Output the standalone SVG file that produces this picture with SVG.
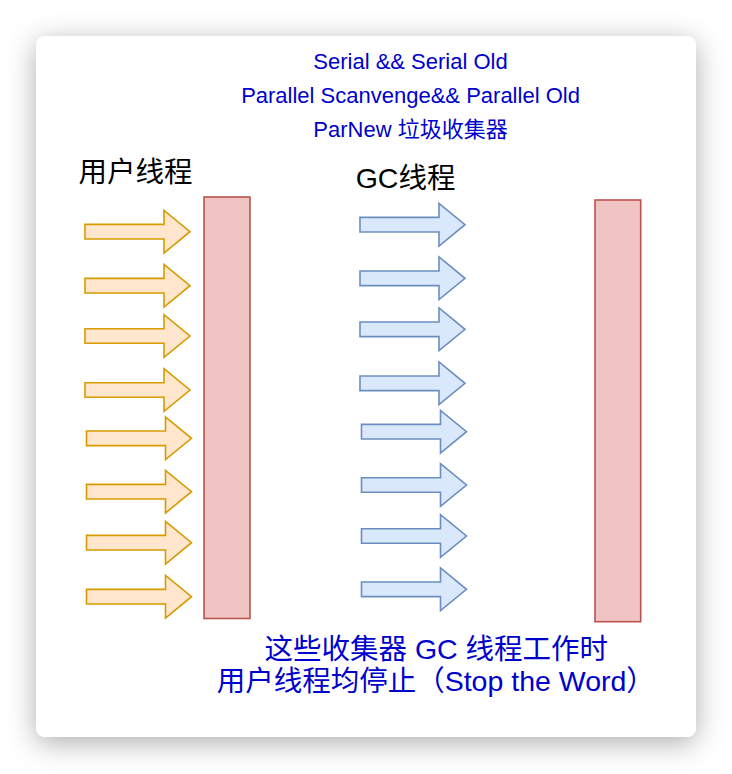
<svg xmlns="http://www.w3.org/2000/svg" width="732" height="774" viewBox="0 0 732 774">
  <defs>
    <filter id="shadow" x="-20%" y="-20%" width="140%" height="140%">
      <feDropShadow dx="0" dy="6" stdDeviation="14" flood-color="#000" flood-opacity="0.32"/>
    </filter>
    <path id="arrow" d="M0,-7.3 H79 V-21.3 L105,0 L79,21.3 V7.3 H0 Z"/>
  </defs>
  <style>
    .user { fill: #ffe6cc; stroke: #d79b00; stroke-width: 1.6; stroke-linejoin: miter; }
    .gc { fill: #dae8fc; stroke: #6c8ebf; stroke-width: 1.6; stroke-linejoin: miter; }
    .bar { fill: #f0c4c3; stroke: #b85450; stroke-width: 1.6; }
    .t { font-family: "Liberation Sans", "Noto Sans CJK SC", sans-serif; }
    .blue { fill: #0000cc; }
    .top { font-size: 22px; text-anchor: middle; }
    .lbl { font-size: 28.5px; fill: #000; }
    .note { font-size: 28.5px; }
  </style>
  <rect width="732" height="774" fill="#ffffff"/>
  <g id="card">
    <rect x="36" y="36" width="660" height="701" rx="9" fill="#ffffff" filter="url(#shadow)"/>
  </g>
  <g id="title">
    <text class="t blue top" x="410.5" y="69">Serial &amp;&amp; Serial Old</text>
    <text class="t blue top" x="410.5" y="103">Parallel Scanvenge&amp;&amp; Parallel Old</text>
    <text class="t blue top" x="410.5" y="137">ParNew 垃圾收集器</text>
  </g>
  <g id="label-user">
    <text class="t lbl" x="78.4" y="182">用户线程</text>
  </g>
  <g id="label-gc">
    <text class="t lbl" x="355.7" y="188">GC线程</text>
  </g>
  <g id="bar-left">
    <rect class="bar" x="204" y="197" width="46" height="421.5"/>
  </g>
  <g id="bar-right">
    <rect class="bar" x="595" y="200" width="45.7" height="421.7"/>
  </g>
  <g id="connectors">
    <g id="user-threads">
      <use href="#arrow" class="user" x="85" y="231.7"/>
      <use href="#arrow" class="user" x="85" y="285.7"/>
      <use href="#arrow" class="user" x="85" y="336"/>
      <use href="#arrow" class="user" x="85" y="390"/>
      <use href="#arrow" class="user" x="86.5" y="438.3"/>
      <use href="#arrow" class="user" x="86.5" y="491.7"/>
      <use href="#arrow" class="user" x="86.5" y="542.7"/>
      <use href="#arrow" class="user" x="86.5" y="596.7"/>
    </g>
    <g id="gc-threads">
      <use href="#arrow" class="gc" x="360" y="224.7"/>
      <use href="#arrow" class="gc" x="360" y="278.3"/>
      <use href="#arrow" class="gc" x="360" y="329.3"/>
      <use href="#arrow" class="gc" x="360" y="383.3"/>
      <use href="#arrow" class="gc" x="361.5" y="431.7"/>
      <use href="#arrow" class="gc" x="361.5" y="485"/>
      <use href="#arrow" class="gc" x="361.5" y="536"/>
      <use href="#arrow" class="gc" x="361.5" y="589.3"/>
    </g>
  </g>
  <g id="note">
    <text class="t blue note" x="264.5" y="659">这些收集器 GC 线程工作时</text>
    <text class="t blue note" x="216.7" y="690.7">用户线程均停止（Stop the Word）</text>
  </g>
</svg>
